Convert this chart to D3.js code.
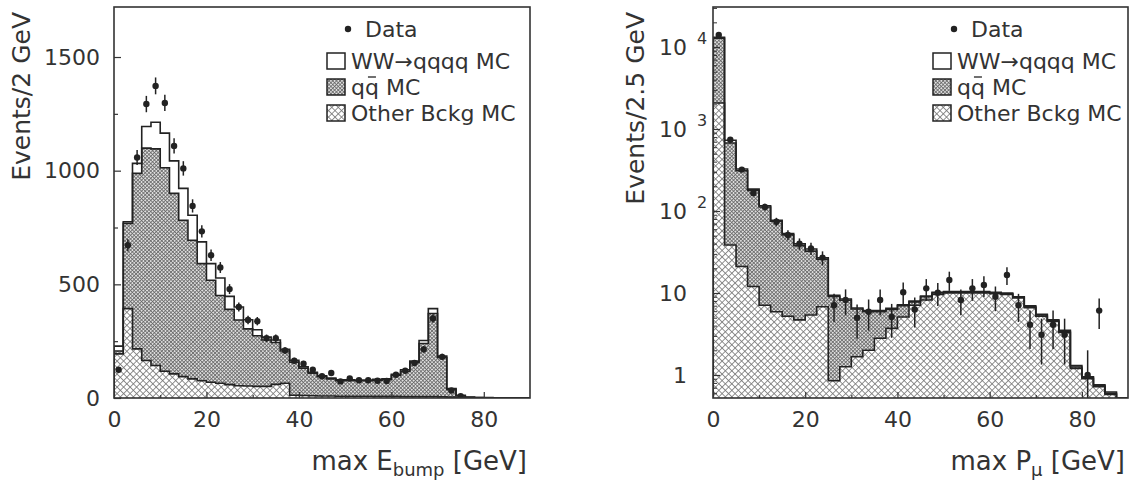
<!DOCTYPE html>
<html>
<head>
<meta charset="utf-8">
<script src="https://cdn.jsdelivr.net/npm/d3@7"></script>
<style>
  body { margin: 0; background: #fff; }
  svg text { font-family: "DejaVu Sans", sans-serif; fill: #333; }
</style>
</head>
<body>
<div id="chart"></div>
<script>
// ---- left panel: max E_bump, 2 GeV bins from 0 to 90 GeV
const leftBin = 2;
const leftOther = [194,393,216,165,143,118,106,94,84,76,69,65,59,54,53,51,51,60,65,12,11,10,9,9,8,8,8,8,7,7,7,6,6,6,6,5,4,2,1,0.5,0.3,0.2,0.2,0.1,0.1];
const leftQQ    = [13,375,772,934,953,895,794,688,610,515,449,386,331,289,251,223,204,184,142,146,120,99,85,75,68,69,68,68,71,74,93,112,149,234,366,173,34,8,2,1,0.7,0.6,0.4,0.3,0.2];
const leftWW    = [21,7,44,95,117,152,143,140,110,96,73,77,57,57,40,26,13,11,7,8,6,4,4,4,4,3,3,3,4,4,4,6,7,13,21,6,4,2,1,0.5,0.5,0.2,0.2,0.2,0.2];
const leftData  = [124,672,1058,1293,1373,1298,1109,1010,845,733,628,574,479,400,343,338,263,263,209,164,151,124,96,110,73,86,78,78,76,75,102,120,154,214,350,181,33,8,0,0,0,0,0,0,0];

// ---- right panel: max P_mu, 2.5 GeV bins from 0 to 90 GeV (log scale)
const rightBin = 2.5;
const rightOther = [2080,38.5,21,12,7.1,5.9,5.2,4.7,5.4,6.8,0.85,1.26,1.67,2.0,2.8,3.7,5.1,7.1,8.2,9.6,10,10,10,10,9.8,9.6,8.7,6.6,5.2,4.5,3.3,1.2,0.9,0.72,0.58,0.5];
const rightQQ    = [10700,637,289,166,105,69,46,33,27,19,8.2,6.9,4.7,3.9,3.1,2.6,1.9,0.7,0.8,0.4,0.2,0.2,0.2,0.2,0.2,0.2,0.2,0.2,0.2,0.1,0.1,0.05,0.03,0.02,0.02,0];
const rightWW    = [400,55,15,7,4,2,2,2,2,1,0.3,0.3,0.2,0.2,0.2,0.2,0.2,0.2,0.2,0.2,0.2,0.2,0.2,0.2,0.2,0.2,0.1,0.2,0.1,0.1,0.1,0.05,0.02,0.02,0.02,0.02];
const rightData  = [14000,740,320,165,112,74,51,40,35,27,7.1,8.2,5.0,5.9,8.2,5.1,10.2,6.3,11.4,10.1,14.4,8.2,11.4,12.5,9.0,16.6,7.1,4.1,3.1,4.1,3.1,0,1.0,6.1,0,0];

// ticks and labels
const xTicks = [0, 20, 40, 60, 80];
const xMinor = [10, 30, 50, 70, 90];
const leftYTicks = [0, 500, 1000, 1500];
const leftYMinor = [250, 750, 1250];
const rightYTicks = [1, 10, 100, 1000, 10000];
const legendLabels = ["Data", "WW\u2192qqqq MC", "qq MC", "Other Bckg MC"];

const svg = d3.select("#chart")
  .append("svg")
    .attr("width", 1133)
    .attr("height", 482);

const defs = svg.append("defs");

// crossed diagonal hatch used for the MC fills
function crossPattern(id, size, bg, ink, sw) {
  const p = defs.append("pattern")
      .attr("id", id)
      .attr("patternUnits", "userSpaceOnUse")
      .attr("width", size).attr("height", size)
      .attr("patternTransform", "rotate(45)");
  p.append("rect").attr("width", size).attr("height", size).attr("fill", bg);
  p.append("path")
      .attr("d", `M0,${size / 2}H${size}M${size / 2},0V${size}`)
      .attr("stroke", ink).attr("stroke-width", sw);
}
crossPattern("hatchOther", 4.6, "#fff", "#777", 0.8);
crossPattern("hatchQQ", 2.6, "#e0e0e0", "#666", 0.8);

function drawPanel(cfg) {
  const { x, y, bin, other, qq, ww, data, id } = cfg;
  const [x0, x1] = x.range();
  const [yb, yt] = y.range();
  const yMin = y.domain()[0];

  // stacked tops
  const otherTop = other.slice();
  const qqTop = other.map((v, i) => v + qq[i]);
  const total = qqTop.map((v, i) => v + ww[i]);

  defs.append("clipPath").attr("id", "clip-" + id)
    .append("rect").attr("x", x0).attr("y", yt).attr("width", x1 - x0).attr("height", yb - yt);

  const g = svg.append("g").attr("clip-path", `url(#clip-${id})`);

  const steps = vals => {
    const pts = [];
    vals.forEach((v, i) => { pts.push([i * bin, v], [(i + 1) * bin, v]); });
    return pts;
  };
  const area = d3.area()
      .x(d => x(d[0]))
      .y0(y(yMin))
      .y1(d => y(Math.max(d[1], yMin)));
  const line = d3.line()
      .x(d => x(d[0]))
      .y(d => y(Math.max(d[1], yMin)));

  const layers = [
    { vals: total, fill: "#fff" },
    { vals: qqTop, fill: "url(#hatchQQ)" },
    { vals: otherTop, fill: "url(#hatchOther)" }
  ];
  layers.forEach(l => {
    g.append("path").attr("d", area(steps(l.vals))).attr("fill", l.fill);
  });
  layers.slice().reverse().forEach(l => {
    const pts = [[0, yMin], ...steps(l.vals), [l.vals.length * bin, yMin]];
    g.append("path")
        .attr("d", line(pts))
        .attr("fill", "none")
        .attr("stroke", "#222")
        .attr("stroke-width", 1.6);
  });

  // data points with poisson error bars
  const pts = data.map((d, i) => ({ c: (i + 0.5) * bin, n: d })).filter(d => d.n > 0);
  g.selectAll(".err")
    .data(pts)
    .join("line")
      .attr("x1", d => x(d.c)).attr("x2", d => x(d.c))
      .attr("y1", d => y(Math.max(d.n - Math.sqrt(d.n), yMin)))
      .attr("y2", d => y(d.n + Math.sqrt(d.n)))
      .attr("stroke", "#222")
      .attr("stroke-width", 1.5);
  g.selectAll(".pt")
    .data(pts)
    .join("circle")
      .attr("cx", d => x(d.c))
      .attr("cy", d => y(d.n))
      .attr("r", 3.2)
      .attr("fill", "#222");

  // frame
  svg.append("rect")
      .attr("x", x0).attr("y", yt)
      .attr("width", x1 - x0).attr("height", yb - yt)
      .attr("fill", "none")
      .attr("stroke", "#333")
      .attr("stroke-width", 1.6);

  // x axis, ticks pointing inward
  const xa = svg.append("g")
      .attr("transform", `translate(0,${yb})`)
      .call(d3.axisBottom(x).tickValues(xTicks).tickSize(-6).tickPadding(13))
      .call(a => a.select(".domain").remove());
  xa.selectAll("text").style("font-size", "22px").attr("fill", "#333");
  xa.selectAll("line").attr("stroke", "#333").attr("stroke-width", 1.2);
  svg.append("g")
      .attr("transform", `translate(0,${yb})`)
      .call(d3.axisBottom(x).tickValues(xMinor.filter(t => t < x.domain()[1])).tickSize(-3).tickFormat(""))
      .call(a => a.select(".domain").remove())
      .selectAll("line").attr("stroke", "#333").attr("stroke-width", 1.2);

  // legend
  const lx = cfg.legendX;
  const lg = svg.append("g");
  lg.append("circle").attr("cx", lx + 21).attr("cy", 29).attr("r", 3.2).attr("fill", "#222");
  lg.append("text").attr("x", lx + 38).attr("y", 37).style("font-size", "22px").text(legendLabels[0]);
  const fills = ["#fff", "url(#hatchQQ)", "url(#hatchOther)"];
  [53, 79, 105].forEach((by, k) => {
    lg.append("rect")
        .attr("x", lx).attr("y", by)
        .attr("width", 18).attr("height", 16)
        .attr("fill", fills[k])
        .attr("stroke", "#222").attr("stroke-width", 1.5);
    const t = lg.append("text")
        .attr("x", lx + 24).attr("y", by + 16)
        .style("font-size", "22px")
        .text(legendLabels[k + 1]);
    if (k === 1) {
      // bar over the second q
      const w1 = t.node().getSubStringLength(0, 1);
      const m = lx + 24 + w1 * 1.5;
      lg.append("line")
          .attr("x1", m - 4).attr("x2", m + 4)
          .attr("y1", by - 2).attr("y2", by - 2)
          .attr("stroke", "#333").attr("stroke-width", 1.4);
    }
  });

  return xa;
}

// ---------------- left panel
const xL = d3.scaleLinear().domain([0, 90]).range([114, 530]);
const yL = d3.scaleLinear().domain([0, 1720]).range([398, 7]);
drawPanel({ id: "L", x: xL, y: yL, bin: leftBin, other: leftOther, qq: leftQQ, ww: leftWW, data: leftData, legendX: 327 });

const yaL = svg.append("g")
    .attr("transform", "translate(114,0)")
    .call(d3.axisLeft(yL).tickValues(leftYTicks).tickSize(-7).tickPadding(14).tickFormat(d3.format("d")))
    .call(a => a.select(".domain").remove());
yaL.selectAll("text").style("font-size", "22px").attr("fill", "#333");
yaL.selectAll("line").attr("stroke", "#333").attr("stroke-width", 1.2);
svg.append("g")
    .attr("transform", "translate(114,0)")
    .call(d3.axisLeft(yL).tickValues(leftYMinor).tickSize(-4).tickFormat(""))
    .call(a => a.select(".domain").remove())
    .selectAll("line").attr("stroke", "#333").attr("stroke-width", 1.2);

svg.append("text")
    .attr("transform", "translate(30,12) rotate(-90)")
    .attr("text-anchor", "end")
    .style("font-size", "25px")
    .text("Events/2 GeV");

const tL = svg.append("text")
    .attr("x", 527).attr("y", 470)
    .attr("text-anchor", "end")
    .style("font-size", "26px");
tL.append("tspan").text("max E");
tL.append("tspan").attr("dy", 6).style("font-size", "18px").text("bump");
tL.append("tspan").attr("dy", -6).text(" [GeV]");

// ---------------- right panel
const xR = d3.scaleLinear().domain([0, 90]).range([713, 1128]);
const yR = d3.scaleLog().domain([0.524, 30760]).range([398, 7]);
drawPanel({ id: "R", x: xR, y: yR, bin: rightBin, other: rightOther, qq: rightQQ, ww: rightWW, data: rightData, legendX: 933 });

const yaR = svg.append("g")
    .attr("transform", "translate(713,0)")
    .call(d3.axisLeft(yR).tickValues(rightYTicks).tickSize(-7).tickPadding(26)
      .tickFormat(d => d === 1 ? "1" : "10"))
    .call(a => a.select(".domain").remove());
yaR.selectAll("text").style("font-size", "22px").attr("fill", "#333");
yaR.selectAll("line").attr("stroke", "#333").attr("stroke-width", 1.2);

// exponents next to the "10" labels
svg.append("g").selectAll("text")
  .data(rightYTicks.filter(t => t >= 100))
  .join("text")
    .attr("x", 713 - 16)
    .attr("y", d => yR(d) - 3)
    .style("font-size", "16px")
    .text(d => Math.round(Math.log10(d)));

// minor log ticks
const rMinor = [];
[0.1, 1, 10, 100, 1000, 10000].forEach(dec => {
  for (let k = 2; k <= 9; k++) {
    const v = dec * k;
    if (v > yR.domain()[0] && v < yR.domain()[1]) rMinor.push(v);
  }
});
svg.append("g")
    .attr("transform", "translate(713,0)")
    .call(d3.axisLeft(yR).tickValues(rMinor).tickSize(-4).tickFormat(""))
    .call(a => a.select(".domain").remove())
    .selectAll("line").attr("stroke", "#333").attr("stroke-width", 1);

svg.append("text")
    .attr("transform", "translate(644,12) rotate(-90)")
    .attr("text-anchor", "end")
    .style("font-size", "25px")
    .text("Events/2.5 GeV");

const tR = svg.append("text")
    .attr("x", 1125).attr("y", 470)
    .attr("text-anchor", "end")
    .style("font-size", "26px");
tR.append("tspan").text("max P");
tR.append("tspan").attr("dy", 6).style("font-size", "18px").text("\u03bc");
tR.append("tspan").attr("dy", -6).text(" [GeV]");
</script>
</body>
</html>
